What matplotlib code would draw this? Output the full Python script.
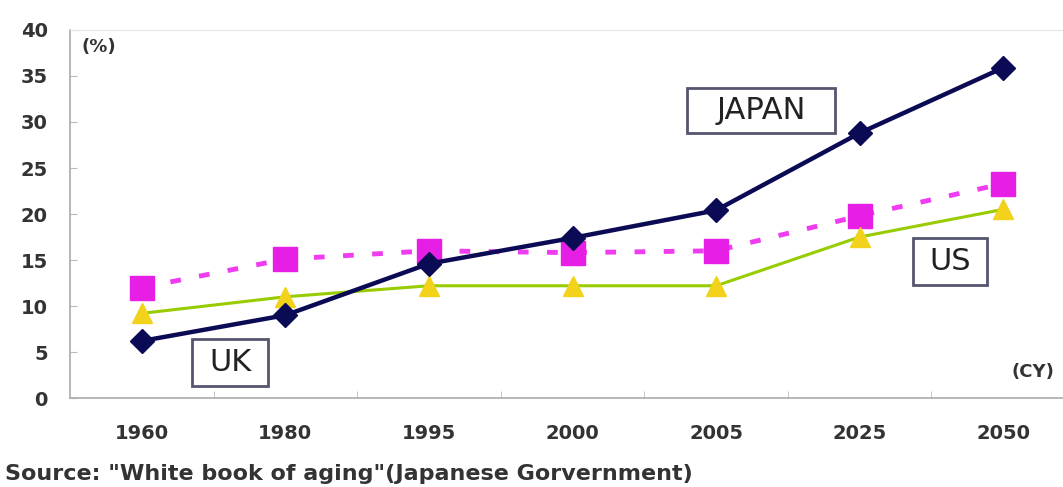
import matplotlib.pyplot as plt
from matplotlib.patches import Rectangle

plt.rcParams['font.family'] = ['DejaVu Sans']

years = ['1960', '1980', '1995', '2000', '2005', '2025', '2050']
japan = [6.2, 9.0, 14.6, 17.4, 20.4, 28.8, 35.9]
uk = [12.0, 15.1, 16.0, 15.8, 16.0, 19.8, 23.3]
us = [9.2, 11.0, 12.2, 12.2, 12.2, 17.5, 20.5]

ink = '#333333'

fig = plt.figure(figsize=(10.63, 4.87), dpi=100)
ax = fig.add_axes([70 / 1063, 89 / 487, 1005 / 1063, 368 / 487])

x = list(range(len(years)))
ax.plot(x, uk, color='#f03cf0', linewidth=3.5, linestyle=(0, (2.2, 3.8)),
        marker='s', markersize=17, markerfacecolor='#e61ee6',
        markeredgecolor='#e61ee6', zorder=3)
ax.plot(x, us, color='#99cc00', linewidth=2.2,
        marker='^', markersize=14, markerfacecolor='#f2d21a',
        markeredgecolor='#f2d21a', zorder=4)
ax.plot(x, japan, color='#0b0b55', linewidth=3.2,
        marker='D', markersize=12, markerfacecolor='#0b0b55',
        markeredgecolor='#0b0b55', zorder=5)

ax.set_xlim(-0.5, len(years) - 0.5)
ax.set_ylim(0, 40)
ax.set_yticks(range(0, 41, 5))
ax.set_xticks(x)
ax.set_xticklabels(years, fontweight='bold')
ax.set_yticklabels([str(v) for v in range(0, 41, 5)], fontweight='bold')
ax.set_xticks([i + 0.5 for i in range(len(years) - 1)], minor=True)
ax.tick_params(axis='x', which='major', length=0, pad=19, labelsize=14,
               labelcolor=ink)
ax.tick_params(axis='x', which='minor', length=5, direction='in',
               color='#bbbbbb')
ax.tick_params(axis='y', length=5, direction='in', color='#bbbbbb',
               pad=16, labelsize=14, labelcolor=ink)

for side in ['left', 'bottom']:
    ax.spines[side].set_color('#aaaaaa')
    ax.spines[side].set_linewidth(1.2)
ax.spines['top'].set_color('#e4e4e4')
ax.spines['right'].set_visible(False)


# boxed series name: box given as (x0, x1, y0, y1) in data units
def boxed_label(text, x0, x1, y0, y1, size):
    ax.add_patch(Rectangle((x0, y0), x1 - x0, y1 - y0, facecolor='white',
                           edgecolor='#555570', linewidth=2, zorder=6))
    ax.text((x0 + x1) / 2, (y0 + y1) / 2, text, fontsize=size,
            ha='center', va='center', color='#222222', zorder=7)


boxed_label('JAPAN', 3.80, 4.83, 28.8, 33.7, 22)
boxed_label('US', 5.37, 5.89, 12.3, 17.4, 22)
boxed_label('UK', 0.35, 0.88, 1.3, 6.4, 22)

ax.text(-0.42, 38.2, '(%)', fontsize=13, fontweight='bold', ha='left',
        va='center', color=ink)
ax.text(6.21, 2.8, '(CY)', fontsize=13, fontweight='bold', ha='center',
        va='center', color=ink)

fig.text(5 / 1063, 1 - 474 / 487, 'Source: "White book of aging"(Japanese Gorvernment)',
         fontsize=16, fontweight='bold', ha='left', va='center', color=ink)

fig.savefig('out.png', dpi=100)
